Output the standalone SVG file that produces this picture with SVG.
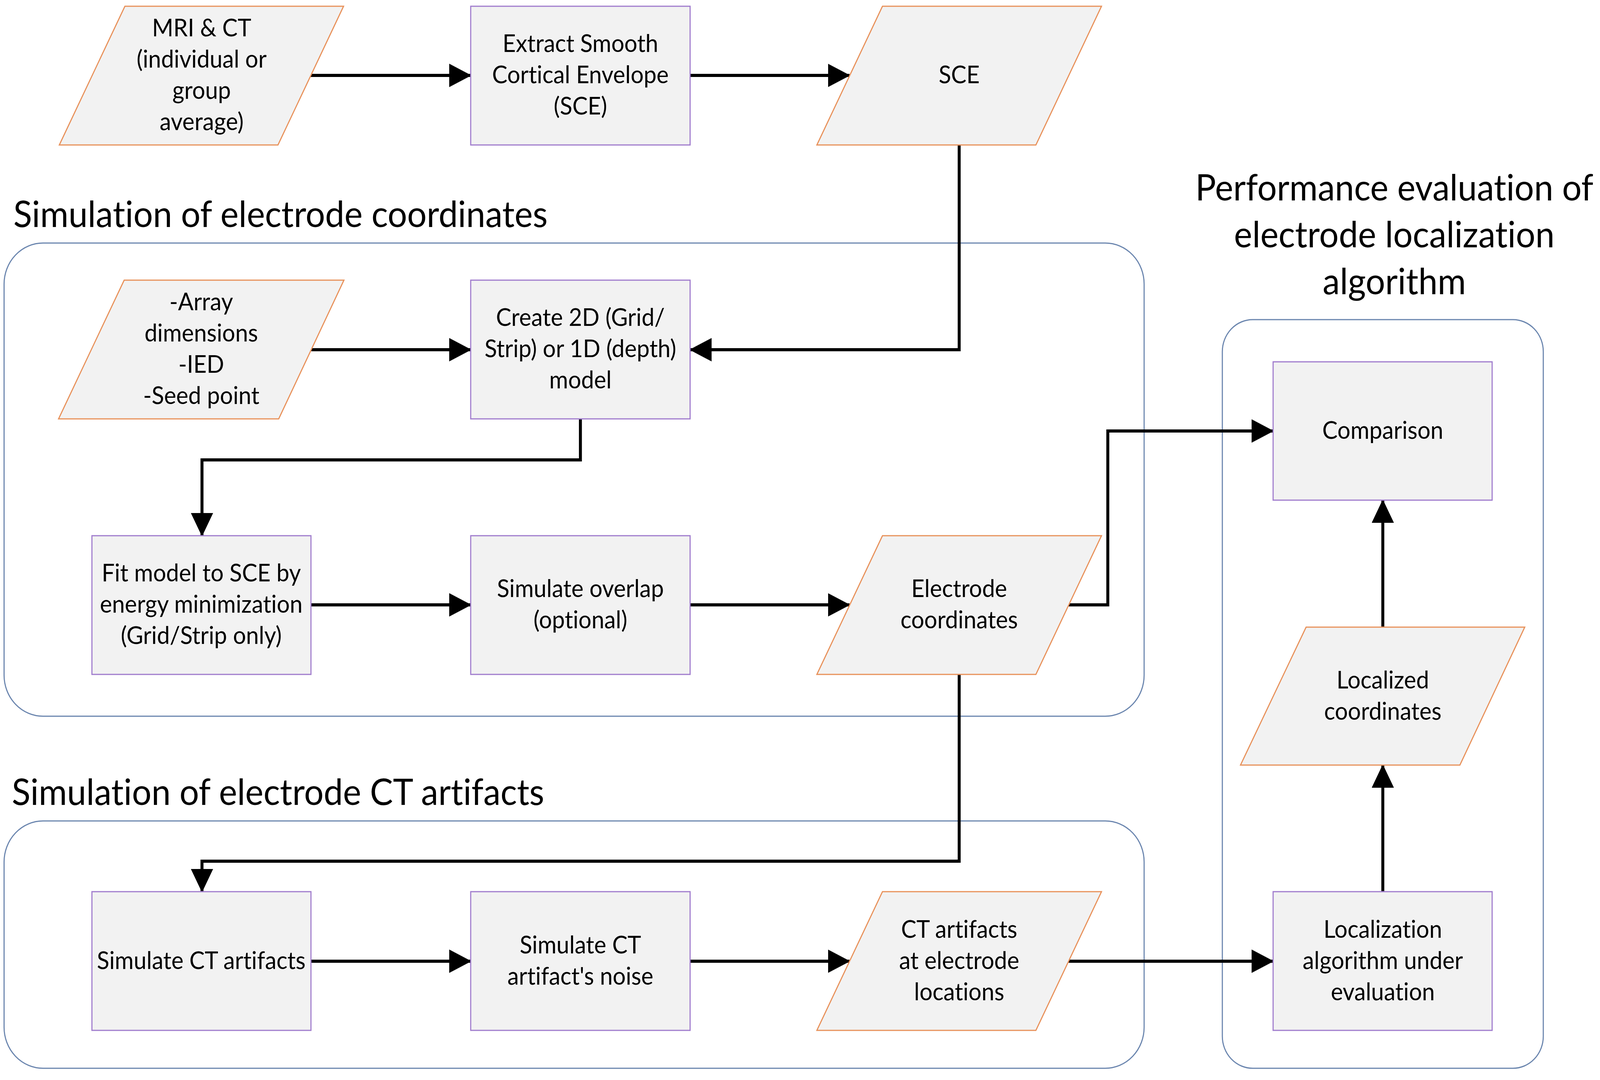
<svg xmlns="http://www.w3.org/2000/svg" width="4317" height="2764" viewBox="0 0 4317 2764" preserveAspectRatio="none">
<defs>
<style>
svg{width:100vw;height:100vh}
.cont{fill:none;stroke:#6A85AE;stroke-width:3}
.proc{fill:#F2F2F2;stroke:#A07CCD;stroke-width:3}
.data{fill:#F2F2F2;stroke:#E8915A;stroke-width:3}
.t{font-family:Lato,"Liberation Sans",sans-serif;font-size:62px;fill:#000;text-anchor:middle;font-variant-ligatures:none}
.title{font-family:Lato,"Liberation Sans",sans-serif;font-size:93px;fill:#000;font-variant-ligatures:none}
.conn{fill:none;stroke:#000;stroke-width:8;stroke-linejoin:miter}
</style>
<marker id="ah" markerUnits="userSpaceOnUse" markerWidth="60" markerHeight="60" refX="58" refY="30" orient="auto" viewBox="0 0 60 60">
<path d="M0,0 L60,30 L0,60 Z" fill="#000"/>
</marker>
</defs>
<rect width="4317" height="2764" fill="#fff"/>

<g id="containers">
<rect class="cont" x="11" y="622" width="3076" height="1211" rx="105" ry="105"/>
<rect class="cont" x="11" y="2101" width="3076" height="633" rx="105" ry="105"/>
<rect class="cont" x="3298" y="818" width="866" height="1916" rx="82" ry="82"/>
</g>

<g id="titles">
<text class="title" x="36" y="581">Simulation of electrode coordinates</text>
<text class="title" x="32" y="2060">Simulation of electrode CT artifacts</text>
<text class="title" text-anchor="middle" x="3762" y="513">Performance evaluation of</text>
<text class="title" text-anchor="middle" x="3762" y="633">electrode localization</text>
<text class="title" text-anchor="middle" x="3762" y="753">algorithm</text>
</g>

<g id="connectors">
<path class="conn" d="M838,193 H1270" marker-end="url(#ah)"/>
<path class="conn" d="M1862,193 H2292" marker-end="url(#ah)"/>
<path class="conn" d="M2588,371 V895 H1862" marker-end="url(#ah)"/>
<path class="conn" d="M840,895 H1270" marker-end="url(#ah)"/>
<path class="conn" d="M1566,1072 V1177 H545 V1371" marker-end="url(#ah)"/>
<path class="conn" d="M839,1548 H1270" marker-end="url(#ah)"/>
<path class="conn" d="M1862,1548 H2292" marker-end="url(#ah)"/>
<path class="conn" d="M2883,1548 H2989 V1103 H3435" marker-end="url(#ah)"/>
<path class="conn" d="M2588,1726 V2204 H545 V2282" marker-end="url(#ah)"/>
<path class="conn" d="M839,2460 H1270" marker-end="url(#ah)"/>
<path class="conn" d="M1862,2460 H2292" marker-end="url(#ah)"/>
<path class="conn" d="M2883,2460 H3435" marker-end="url(#ah)"/>
<path class="conn" d="M3731,2282 V1958" marker-end="url(#ah)"/>
<path class="conn" d="M3731,1605 V1280" marker-end="url(#ah)"/>
</g>

<g id="mri">
<polygon class="data" points="337,16 927,16 750,371 160,371"/>
<text class="t" x="544" y="93">MRI &amp; CT</text>
<text class="t" x="544" y="173">(individual or</text>
<text class="t" x="544" y="253">group</text>
<text class="t" x="544" y="333">average)</text>
</g>

<g id="extract">
<rect class="proc" x="1270" y="16" width="592" height="355"/>
<text class="t" x="1566" y="133">Extract Smooth</text>
<text class="t" x="1566" y="213">Cortical Envelope</text>
<text class="t" x="1566" y="293">(SCE)</text>
</g>

<g id="sce">
<polygon class="data" points="2381,16 2972,16 2795,371 2204,371"/>
<text class="t" x="2588" y="213">SCE</text>
</g>

<g id="array">
<polygon class="data" points="335,717 928,717 752,1072 158,1072"/>
<text class="t" x="543" y="794">-Array</text>
<text class="t" x="543" y="874">dimensions</text>
<text class="t" x="543" y="954">-IED</text>
<text class="t" x="543" y="1034">-Seed point</text>
</g>

<g id="create">
<rect class="proc" x="1270" y="717" width="592" height="355"/>
<text class="t" x="1566" y="834">Create 2D (Grid/</text>
<text class="t" x="1566" y="914">Strip) or 1D (depth)</text>
<text class="t" x="1566" y="994">model</text>
</g>

<g id="fit">
<rect class="proc" x="248" y="1371" width="591" height="355"/>
<text class="t" x="543" y="1488">Fit model to SCE by</text>
<text class="t" x="543" y="1568">energy minimization</text>
<text class="t" x="543" y="1648">(Grid/Strip only)</text>
</g>

<g id="overlap">
<rect class="proc" x="1270" y="1371" width="592" height="355"/>
<text class="t" x="1566" y="1528">Simulate overlap</text>
<text class="t" x="1566" y="1608">(optional)</text>
</g>

<g id="electrode">
<polygon class="data" points="2381,1371 2972,1371 2795,1726 2204,1726"/>
<text class="t" x="2588" y="1528">Electrode</text>
<text class="t" x="2588" y="1608">coordinates</text>
</g>

<g id="simct">
<rect class="proc" x="248" y="2282" width="591" height="355"/>
<text class="t" x="543" y="2480">Simulate CT artifacts</text>
</g>

<g id="noise">
<rect class="proc" x="1270" y="2282" width="592" height="355"/>
<text class="t" x="1566" y="2440">Simulate CT</text>
<text class="t" x="1566" y="2520">artifact's noise</text>
</g>

<g id="ctart">
<polygon class="data" points="2381,2282 2972,2282 2795,2637 2204,2637"/>
<text class="t" x="2588" y="2400">CT artifacts</text>
<text class="t" x="2588" y="2480">at electrode</text>
<text class="t" x="2588" y="2560">locations</text>
</g>

<g id="comparison">
<rect class="proc" x="3435" y="926" width="591" height="354"/>
<text class="t" x="3731" y="1123">Comparison</text>
</g>

<g id="localized">
<polygon class="data" points="3524,1605 4114,1605 3939,1958 3347,1958"/>
<text class="t" x="3731" y="1762">Localized</text>
<text class="t" x="3731" y="1842">coordinates</text>
</g>

<g id="localization">
<rect class="proc" x="3435" y="2282" width="591" height="355"/>
<text class="t" x="3731" y="2400">Localization</text>
<text class="t" x="3731" y="2480">algorithm under</text>
<text class="t" x="3731" y="2560">evaluation</text>
</g>
</svg>
